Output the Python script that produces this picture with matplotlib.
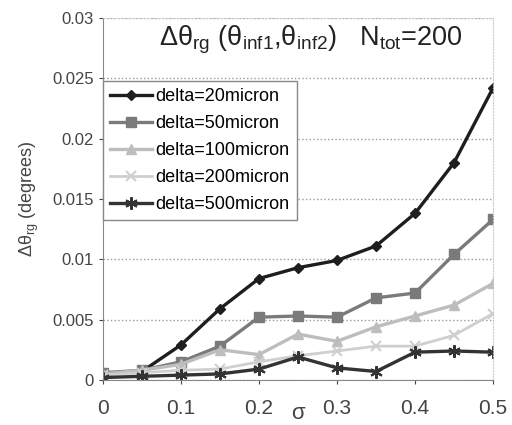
import matplotlib
matplotlib.use("Agg")
import matplotlib.pyplot as plt

plt.rcParams['font.family'] = ['Liberation Sans', 'DejaVu Sans']
plt.rcParams['mathtext.default'] = 'regular'

sigma = [0, 0.05, 0.1, 0.15, 0.2, 0.25, 0.3, 0.35, 0.4, 0.45, 0.5]
d20 = [0.0005, 0.0007, 0.0029, 0.0059, 0.0084, 0.0093, 0.0099, 0.0111, 0.0138, 0.0180, 0.0242]
d50 = [0.0006, 0.0008, 0.0015, 0.0028, 0.0052, 0.0053, 0.0052, 0.0068, 0.0072, 0.0104, 0.0133]
d100 = [0.0005, 0.0008, 0.0013, 0.0025, 0.0021, 0.0038, 0.0032, 0.0044, 0.0053, 0.0062, 0.0080]
d200 = [0.0004, 0.0006, 0.0008, 0.0009, 0.0015, 0.0020, 0.0024, 0.0028, 0.0028, 0.0037, 0.0055]
d500 = [0.0002, 0.0003, 0.0004, 0.0005, 0.0009, 0.0019, 0.0010, 0.0007, 0.0023, 0.0024, 0.0023]
labels = ['delta=20micron', 'delta=50micron', 'delta=100micron', 'delta=200micron', 'delta=500micron']

fig = plt.figure(figsize=(5.12, 4.25), dpi=100)
ax = fig.add_axes([0.201, 0.106, 0.762, 0.852])

ax.plot(sigma, d20, color='#1e1e1e', lw=2.4, marker='D', ms=5, label=labels[0])
ax.plot(sigma, d50, color='#7a7a7a', lw=2.4, marker='s', ms=7, label=labels[1])
ax.plot(sigma, d100, color='#bdbdbd', lw=2.4, marker='^', ms=7, label=labels[2])
ax.plot(sigma, d200, color='#cfcfcf', lw=2.0, marker='x', ms=7, mew=1.5, label=labels[3])
ax.plot(sigma, d500, color='#333333', lw=2.4, marker=(6, 2, 0), ms=9, mew=1.5, label=labels[4])

ax.set_xlim(0, 0.5)
ax.set_ylim(0, 0.03)
ax.set_xticks([0, 0.1, 0.2, 0.3, 0.4, 0.5])
ax.set_xticklabels(['0', '0.1', '0.2', '0.3', '0.4', '0.5'])
ax.set_yticks([0, 0.005, 0.01, 0.015, 0.02, 0.025, 0.03])
ax.set_yticklabels(['0', '0.005', '0.01', '0.015', '0.02', '0.025', '0.03'])
ax.tick_params(axis='x', labelsize=15, colors='#444444', length=3, pad=11)
ax.tick_params(axis='y', labelsize=12, colors='#444444', length=3)
ax.yaxis.grid(True, linestyle=':', color='#999999', lw=1)

for s in ['top', 'right']:
    ax.spines[s].set_color('#cccccc')
    ax.spines[s].set_linestyle(':')
for s in ['left', 'bottom']:
    ax.spines[s].set_color('#888888')

ax.set_ylabel('Δθ$_{rg}$ (degrees)', fontsize=13, color='#444444', labelpad=8)
ax.text(0.25, -0.0028, 'σ', fontsize=16, color='#444444', ha='center', va='center')
ax.text(0.267, 0.0282, 'Δθ$_{rg}$ (θ$_{inf1}$,θ$_{inf2}$)   N$_{tot}$=200',
        fontsize=19.5, ha='center', va='center', color='#222222')

leg = ax.legend(loc='upper left', bbox_to_anchor=(0.0, 0.825), fontsize=13,
                handlelength=2.3, handletextpad=0.2, labelspacing=0.55,
                borderpad=0.4, borderaxespad=0, fancybox=False, framealpha=1)
leg.get_frame().set_edgecolor('#888888')
leg.get_frame().set_linewidth(1)

fig.savefig('out.png', dpi=100)
